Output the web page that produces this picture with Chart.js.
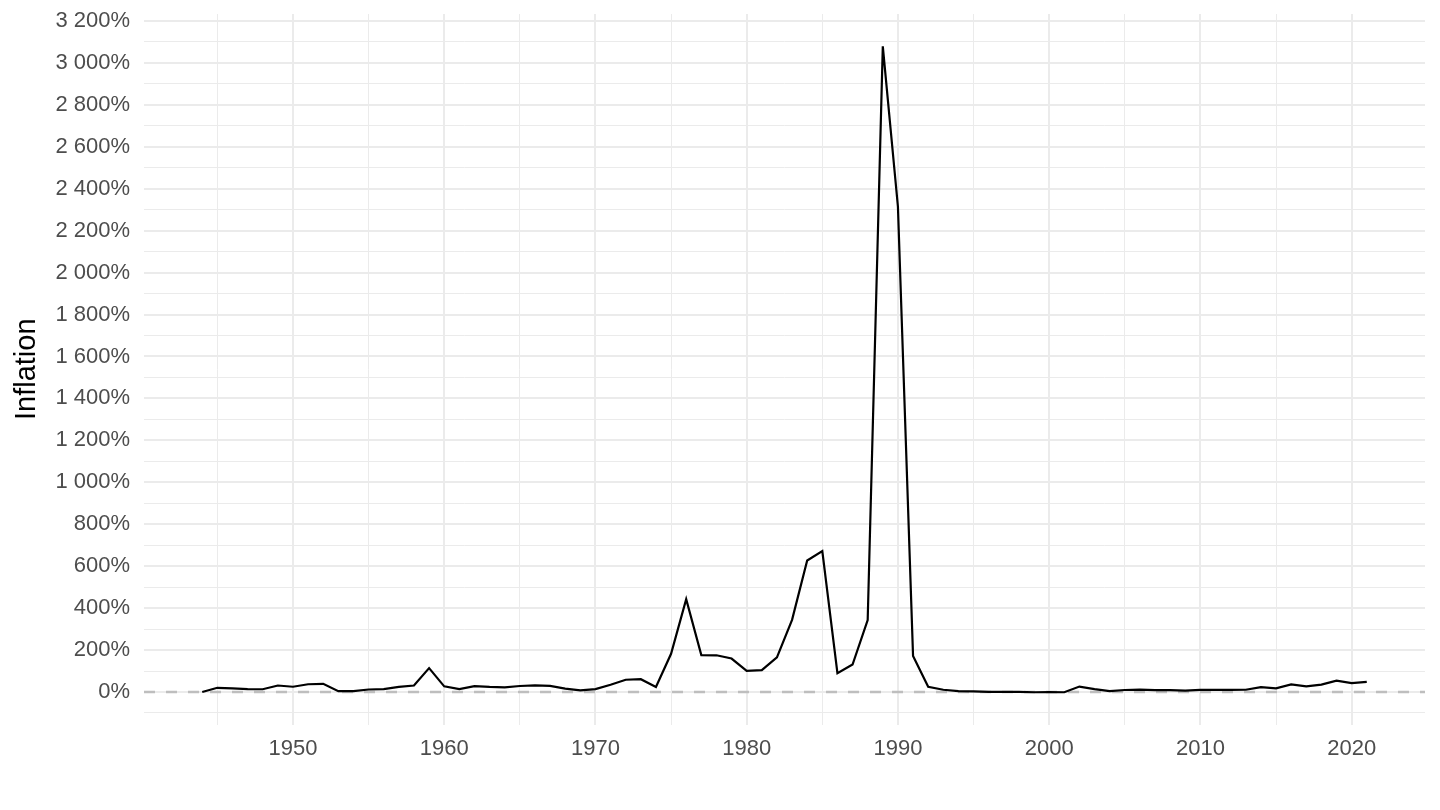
<!DOCTYPE html>
<html lang="en">
<head>
    <meta charset="UTF-8">
    <title>Inflation</title>
    <script src="https://cdn.jsdelivr.net/npm/chart.js"></script>
    <style>
        body { margin: 0; background: #fff; }
        #wrap { width: 1440px; height: 810px; }
    </style>
</head>
<body>
    <div id="wrap">
        <canvas id="inflationChart" width="1440" height="810"></canvas>
    </div>

    <script>
        // annual inflation, %
        var years = [];
        for (var y = 1944; y <= 2021; y++) years.push(y);

        var inflation = [
            0, 20, 17, 13.5, 13, 31, 25, 37, 39, 4,          // 1944-1953
            4, 12, 13.5, 24, 31, 114, 27, 13.5, 28, 24,       // 1954-1963
            22, 28.5, 32, 29, 16, 7.6, 13.6, 34.7, 58.4, 61,  // 1964-1973
            23.5, 182, 443, 176, 175, 159.5, 100.8, 104.5, 164.8, 343.8, // 1974-1983
            626.7, 672, 90, 131, 343, 3079, 2314, 171.7, 24.9, 10.6,     // 1984-1993
            4.2, 3.4, 0.2, 0.5, 0.9, -1.2, -0.9, -1.1, 25.9, 13.4,       // 1994-2003
            4.4, 9.6, 10.9, 8.8, 8.6, 6.3, 10.5, 9.8, 10, 10.6,          // 2004-2013
            23, 17, 36, 27, 35, 54, 42, 48                               // 2014-2021
        ];

        var xRange = [1940.15, 2024.85];
        var yRange = [-155, 3233];
        var refLine = 0;

        var gridColor = '#EBEBEB';
        var tickColor = '#4D4D4D';
        var fontFam = '"Liberation Sans", Arial, Helvetica, sans-serif';

        function fmtPct(v) {
            return String(v).replace(/\B(?=(\d{3})+(?!\d))/g, ' ') + '%';
        }

        var zeroLine = {
            id: 'zeroLine',
            beforeDatasetsDraw: function(chart) {
                var ctx = chart.ctx, area = chart.chartArea;
                var py = chart.scales.y.getPixelForValue(refLine);
                ctx.save();
                ctx.strokeStyle = '#BEBEBE';
                ctx.lineWidth = 2.5;
                ctx.setLineDash([11, 11]);
                ctx.beginPath();
                ctx.moveTo(area.left, py);
                ctx.lineTo(area.right, py);
                ctx.stroke();
                ctx.restore();
            }
        };

        var ctx = document.getElementById('inflationChart').getContext('2d');
        var inflationChart = new Chart(ctx, {
            type: 'line',
            data: {
                datasets: [{
                    label: 'Inflation',
                    data: years.map(function(yr, i) { return { x: yr, y: inflation[i] }; }),
                    borderColor: '#000',
                    borderWidth: 2.2,
                    pointRadius: 0,
                    tension: 0,
                    fill: false
                }]
            },
            options: {
                responsive: false,
                animation: false,
                devicePixelRatio: 1,
                layout: { padding: { top: 14, right: 15, left: 0, bottom: 0 } },
                plugins: {
                    legend: { display: false },
                    tooltip: { enabled: false }
                },
                scales: {
                    x: {
                        type: 'linear',
                        min: xRange[0],
                        max: xRange[1],
                        border: { display: false },
                        grid: {
                            color: gridColor,
                            drawTicks: false,
                            lineWidth: function(c) { return c.tick && c.tick.value % 10 === 0 ? 2 : 1; }
                        },
                        ticks: {
                            stepSize: 5,
                            includeBounds: false,
                            autoSkip: false,
                            maxRotation: 0,
                            padding: 11,
                            color: tickColor,
                            font: { family: fontFam, size: 22 },
                            callback: function(v) { return v % 10 === 0 ? String(v) : ''; }
                        },
                        afterFit: function(s) {
                            s.height = 85.5;
                            s.paddingLeft = 0;
                            s.paddingRight = 0;
                        }
                    },
                    y: {
                        min: yRange[0],
                        max: yRange[1],
                        border: { display: false },
                        grid: {
                            color: gridColor,
                            drawTicks: false,
                            lineWidth: function(c) { return c.tick && c.tick.value % 200 === 0 ? 2 : 1; }
                        },
                        ticks: {
                            stepSize: 100,
                            includeBounds: false,
                            autoSkip: false,
                            padding: 14,
                            color: tickColor,
                            font: { family: fontFam, size: 22 },
                            callback: function(v) { return v % 200 === 0 ? fmtPct(v) : ''; }
                        },
                        title: {
                            display: true,
                            text: 'Inflation',
                            color: '#000',
                            font: { family: fontFam, size: 29 },
                            padding: { top: 10, bottom: 0 }
                        },
                        afterFit: function(s) {
                            s.width = 144;
                            s.paddingTop = 0;
                            s.paddingBottom = 0;
                        }
                    }
                }
            },
            plugins: [zeroLine]
        });
    </script>
</body>
</html>
